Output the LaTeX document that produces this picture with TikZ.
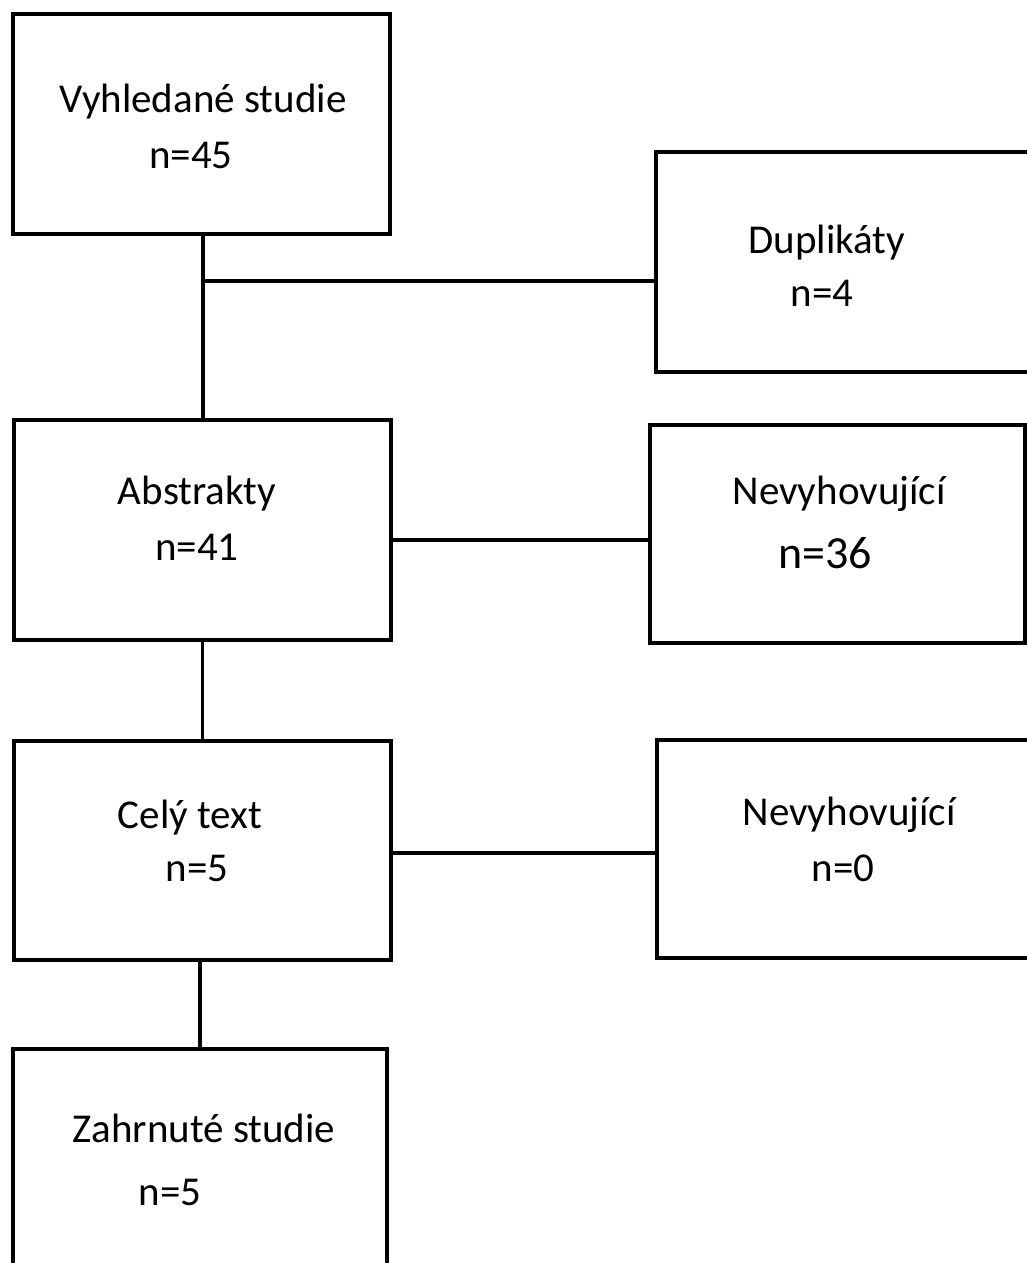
\documentclass[tikz,border=0pt]{standalone}
\usepackage{fontspec}
\setmainfont{Carlito}

\begin{document}
\begin{tikzpicture}[x=1pt,y=-1pt,
  box/.style={draw, line width=3.8pt, inner sep=0pt, minimum width=377pt, minimum height=220pt},
  txt/.style={inner sep=0pt, font=\fontsize{41}{49}\selectfont},
  link/.style={line width=3.8pt}]
  \useasboundingbox (0,0) rectangle (1027,1263);
  \clip (0,0) rectangle (1027,1263);

  % boxes
  \node[box] (search) at (201.5,124) {};
  \node[box, minimum width=384pt] (dupl) at (848,262) {};
  \node[box] (abstr) at (202.5,530) {};
  \node[box, minimum width=375pt, minimum height=218pt] (excla) at (837.5,534) {};
  \node[box, minimum height=219pt] (full) at (202.5,850.5) {};
  \node[box, minimum width=383pt, minimum height=218pt] (exclb) at (848.5,849) {};
  \node[box, minimum width=374pt, minimum height=226pt] (incl) at (200,1162) {};

  % texts
  \node[txt] (searchname) at (203,102) {Vyhledané studie};
  \node[txt] (searchnum) at (191,155) {n=45};
  \node[txt] (duplname) at (827,243) {Duplikáty};
  \node[txt] (duplnum) at (822,293) {n=4};
  \node[txt] (abstrname) at (197,494) {Abstrakty};
  \node[txt] (abstrnum) at (197,547) {n=41};
  \node[txt] (exclaname) at (839,494) {Nevyhovující};
  \node[txt, font=\fontsize{46}{55}\selectfont] (exclanum) at (825,553) {n=36};
  \node[txt] (fullname) at (190,818) {Celý text};
  \node[txt] (fullnum) at (197,868) {n=5};
  \node[txt] (exclbname) at (849,815) {Nevyhovující};
  \node[txt] (exclbnum) at (843,868) {n=0};
  \node[txt] (inclname) at (204,1128) {Zahrnuté studie};
  \node[txt] (inclnum) at (170,1192) {n=5};

  % connectors
  \coordinate (split) at (203,281);
  \draw[link] (split |- search.south) -- (split |- abstr.north);
  \draw[link] (split) -- (split -| dupl.west);
  \draw[link] ([yshift=-10pt]abstr.east) -- ([yshift=-10pt]abstr.east -| excla.west);
  \draw[link] (abstr.south) -- (full.north);
  \draw[link] ([yshift=-2.5pt]full.east) -- ([yshift=-2.5pt]full.east -| exclb.west);
  \draw[link] (incl.north |- full.south) -- (incl.north);
\end{tikzpicture}
\end{document}
